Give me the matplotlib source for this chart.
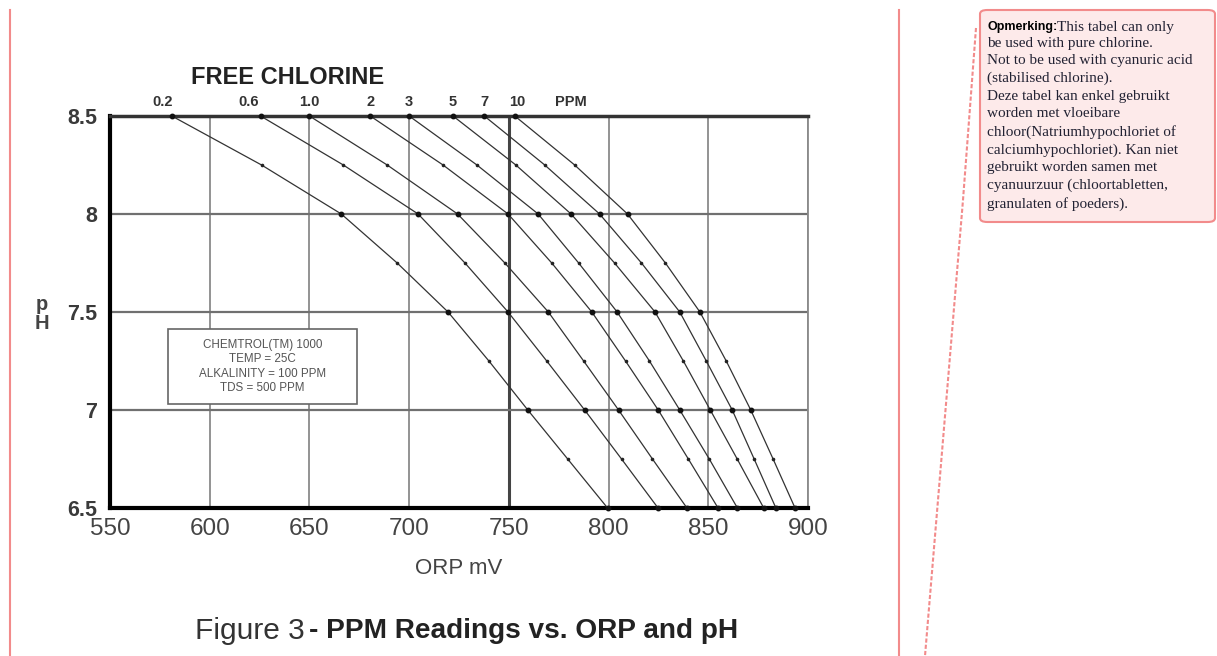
import numpy as np
import matplotlib.pyplot as plt
from matplotlib.patches import FancyBboxPatch, Rectangle
from matplotlib.lines import Line2D

# pH levels (main points every 0.5, small points in between)
ph = [8.5, 8.25, 8.0, 7.75, 7.5, 7.25, 7.0, 6.75, 6.5]

# ORP (mV) for each free chlorine curve
ppm_labels = ["0.2", "0.6", "1.0", "2", "3", "5", "7", "10"]
orp_02 = [581, 626, 666, 694, 719.5, 740, 759.5, 779.5, 799.5]
orp_06 = [625.5, 667, 704.5, 728, 749.6, 769, 788, 806.5, 824.8]
orp_10 = [650, 689, 724.3, 748, 769.8, 787.5, 805, 822, 839.3]
orp_2 = [680.5, 717, 749.6, 771.5, 791.6, 808.5, 824.9, 840, 854.9]
orp_3 = [700, 734, 764.7, 785, 804.3, 820.5, 835.7, 850.5, 864.6]
orp_5 = [722, 753.5, 781.2, 803, 823.3, 837.5, 851, 864.5, 877.8]
orp_7 = [737.7, 768, 795.5, 816.5, 835.7, 849, 862, 873, 883.9]
orp_10ppm = [753, 783, 809.5, 828.5, 845.8, 859, 871.3, 882.5, 893.5]
curves = [orp_02, orp_06, orp_10, orp_2, orp_3, orp_5, orp_7, orp_10ppm]
label_dx = [-6.5, -8.6, 0, 0, 0, 0, 0, 2]  # points

x_ticks = [550, 600, 650, 700, 750, 800, 850, 900]
y_ticks = [6.5, 7, 7.5, 8, 8.5]
y_ticklabels = ["6.5", "7", "7.5", "8", "8.5"]

info_lines = ["CHEMTROL(TM) 1000", "TEMP = 25C", "ALKALINITY = 100 PPM", "TDS = 500 PPM"]

note_rest = ("be used with pure chlorine.\n"
             "Not to be used with cyanuric acid\n"
             "(stabilised chlorine).\n"
             "Deze tabel kan enkel gebruikt\n"
             "worden met vloeibare\n"
             "chloor(Natriumhypochloriet of\n"
             "calciumhypochloriet). Kan niet\n"
             "gebruikt worden samen met\n"
             "cyanuurzuur (chloortabletten,\n"
             "granulaten of poeders).")

plt.rcParams['font.family'] = ['Liberation Sans', 'DejaVu Sans']

W, H = 1217, 656
fig = plt.figure(figsize=(W / 100, H / 100), dpi=100)
ax = fig.add_axes([110 / W, 1 - 508 / H, (808 - 110) / W, (508 - 116) / H])
ax.set_xlim(550, 900)
ax.set_ylim(6.5, 8.5)

# grid
for xv in x_ticks[1:-1]:
    if xv == 750:
        ax.axvline(xv, color='#444444', lw=2.2, zorder=1)
    else:
        ax.axvline(xv, color='#8a8a8a', lw=1.3, zorder=1)
ax.axvline(900, color='#8a8a8a', lw=1.3, zorder=1)
for yv in y_ticks[1:-1]:
    ax.axhline(yv, color='#707070', lw=1.6, zorder=1)

for c, lab, dx in zip(curves, ppm_labels, label_dx):
    ax.plot(c, ph, color='#333333', lw=0.9, zorder=3)
    ax.plot(c[::2], ph[::2], 'o', color='#111111', ms=3.2, zorder=6, clip_on=False)
    ax.plot(c[1::2], ph[1::2], 'o', color='#222222', ms=1.6, zorder=4)
    ax.annotate(lab, xy=(c[0], 8.5), xytext=(dx, 5), textcoords='offset points',
                ha='center', va='bottom', fontsize=10.5, fontweight='bold',
                color='#333333', annotation_clip=False)
ax.annotate("PPM", xy=(781, 8.5), xytext=(0, 5), textcoords='offset points',
            ha='center', va='bottom', fontsize=10.5, fontweight='bold',
            color='#333333', annotation_clip=False)

for side in ['left', 'bottom']:
    ax.spines[side].set_linewidth(3)
    ax.spines[side].set_color('black')
ax.spines['top'].set_linewidth(2.5)
ax.spines['top'].set_color('#333333')
ax.spines['right'].set_linewidth(1.3)
ax.spines['right'].set_color('#8a8a8a')

ax.set_xticks(x_ticks)
ax.set_xticklabels([str(v) for v in x_ticks])
ax.set_yticks(y_ticks)
ax.set_yticklabels(y_ticklabels)
ax.tick_params(length=0)
ax.tick_params(axis='x', pad=7, labelsize=17.5, labelcolor='#444444')
ax.tick_params(axis='y', pad=9, labelsize=15.5, labelcolor='#3a3a3a')
for t in ax.get_yticklabels():
    t.set_fontweight('bold')

ax.set_xlabel("ORP mV", fontsize=16, color='#444444', labelpad=13)
fig.text(42 / W, 1 - 314 / H, "p\nH", ha='center', va='center', fontsize=14.5,
         fontweight='bold', color='#444444', linespacing=1.0)

fig.text(288 / W, 1 - 77 / H, "FREE CHLORINE", ha='center', va='center',
         fontsize=17, fontweight='bold', color='#222222')

# instrument info box
ax.add_patch(Rectangle(((168 - 110) / 698, (508 - 404) / 392), (357 - 168) / 698,
                       (404 - 329) / 392, transform=ax.transAxes, fc='white',
                       ec='#666666', lw=1.2, zorder=5))
ax.text(626.5, 7.222, "\n".join(info_lines), ha='center', va='center', fontsize=8.4,
        color='#555555', linespacing=1.28, zorder=6)

fig.text(305 / W, 1 - 631 / H, "Figure 3", ha='right', va='center',
         fontsize=21.5, color='#333333')
fig.text(309 / W, 1 - 631 / H, "- PPM Readings vs. ORP and pH", ha='left',
         va='center', fontsize=20.2, fontweight='bold', color='#222222')

# page decorations
red = '#f28b8b'
fig.add_artist(Line2D([10 / W, 10 / W], [0, 1 - 10 / H], transform=fig.transFigure,
                      color=red, lw=1.5))
fig.add_artist(Line2D([899 / W, 899 / W], [0, 1 - 10 / H], transform=fig.transFigure,
                      color=red, lw=1.5))
fig.add_artist(Line2D([976 / W, 963 / W, 925 / W], [1 - 28 / H, 1 - 200 / H, 0],
                      transform=fig.transFigure, color=red, lw=1.5, ls=(0, (2, 1))))
fig.add_artist(FancyBboxPatch((980 / W, 1 - 222 / H), (1215 - 980) / W, (222 - 10) / H,
                              boxstyle='round,pad=0,rounding_size=0.006',
                              transform=fig.transFigure, fc='#fdeaea', ec=red, lw=1.5))
fig.text(987 / W, 1 - 27 / H, "Opmerking:", ha='left', va='center', fontsize=9,
         fontweight='bold', color='#000000')
fig.text(1057 / W, 1 - 27 / H, "This tabel can only", ha='left', va='center',
         fontsize=11, family='Liberation Serif', color='#222233')
fig.text(987 / W, 1 - 37 / H, note_rest, ha='left', va='top', fontsize=11,
         family='Liberation Serif', color='#222233', linespacing=1.44)

fig.savefig("out.png", dpi=100)
